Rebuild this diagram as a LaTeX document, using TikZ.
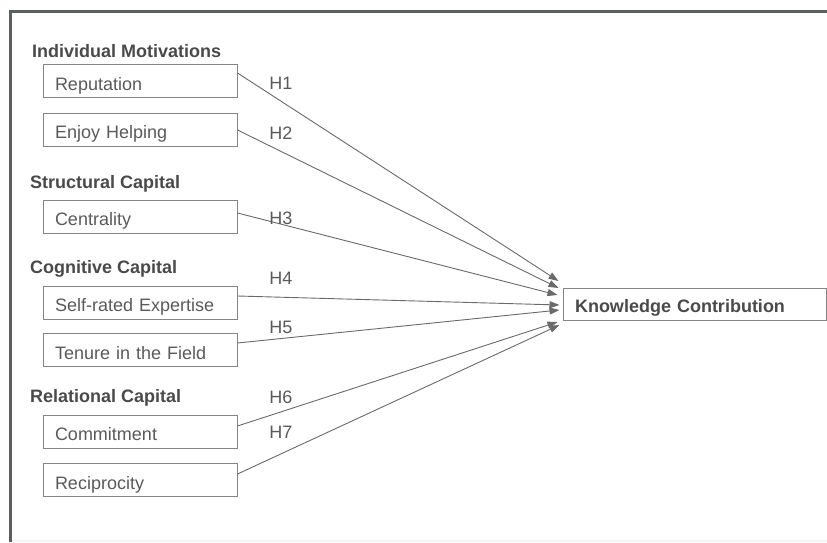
\documentclass[tikz,border=0pt]{standalone}
\usepackage{fontspec}
\setmainfont{Liberation Sans}
\usetikzlibrary{arrows.meta,calc}
\definecolor{txt}{HTML}{5A5A5A}
\definecolor{hdr}{HTML}{4A4A4A}
\definecolor{edge}{HTML}{858585}
\definecolor{wire}{HTML}{6A6A6A}
\definecolor{frame}{HTML}{5A5F5F}
\tikzset{
  varbox/.style={draw=edge, line width=1pt, minimum width=194pt, minimum height=33pt,
    text width=170pt, inner xsep=12pt, inner ysep=0pt, align=left, text=txt,
    text height=18pt, text depth=0pt,
    font=\fontsize{18}{20}\selectfont},
  kcbox/.style={draw=edge, line width=1pt, minimum width=263pt, minimum height=32pt,
    text width=239pt, inner xsep=12pt, inner ysep=0pt, align=left, text=hdr,
    text height=16pt, text depth=0pt,
    font=\fontsize{18}{20}\selectfont\bfseries},
  hdrtext/.style={anchor=west, inner sep=0pt, text=hdr, font=\fontsize{18}{20}\selectfont\bfseries},
  hlabel/.style={inner sep=0pt, text=txt, font=\fontsize{18}{20}\selectfont},
  link/.style={draw=wire, line width=0.9pt, -{Triangle[length=10pt,width=7pt]}}
}
\begin{document}
\begin{tikzpicture}[x=1pt,y=1pt]
\useasboundingbox (0,0) rectangle (827,542);
\fill[white] (0,0) rectangle (827,542);
% frame
\draw[frame, line width=3pt] (10,0) -- (10,530) -- (827,530);
\fill[black!4] (11.5,0) rectangle (827,2.5);

% headings
\node[hdrtext] (h1) at (32,491) {Individual Motivations};
\node[hdrtext] (h2) at (30,358) {Structural Capital};
\node[hdrtext] (h3) at (30,273) {Cognitive Capital};
\node[hdrtext] (h4) at (30,144) {Relational Capital};

% boxes
\node[varbox] (rep) at (140,460.5) {Reputation};
\node[varbox] (enj) at (140,412) {Enjoy Helping};
\node[varbox] (cen) at (140,325.5) {Centrality};
\node[varbox] (sel) at (140,239.5) {Self-rated Expertise};
\node[varbox] (ten) at (140,192) {Tenure in the Field};
\node[varbox] (com) at (140,110.5) {Commitment};
\node[varbox] (rec) at (140,62) {Reciprocity};

\node[kcbox] (kc) at (694.5,238) {Knowledge Contribution};

% connector ends
\coordinate (e1) at ($(kc.west)+(-4,23)$);
\coordinate (e2) at ($(kc.west)+(-4,16)$);
\coordinate (e3) at ($(kc.west)+(-5,9)$);
\coordinate (e4) at ($(kc.west)+(-3,-1)$);
\coordinate (e5) at ($(kc.west)+(-3,-6)$);
\coordinate (e6) at ($(kc.west)+(-5,-18)$);
\coordinate (e7) at ($(kc.west)+(-3,-21)$);

\draw[link] ($(rep.east)+(0,8.5)$) -- (e1);
\draw[link] (enj.east) -- (e2);
\draw[link] ($(cen.east)+(0,3.5)$) -- (e3);
\draw[link] ($(sel.east)+(0,6.5)$) -- (e4);
\draw[link] ($(ten.east)+(0,7)$) -- (e5);
\draw[link] ($(com.east)+(0,5.5)$) -- (e6);
\draw[link] ($(rec.east)+(0,6)$) -- (e7);

% hypothesis labels
\node[hlabel] (l1) at (281,459) {H1};
\node[hlabel] (l2) at (281,409) {H2};
\node[hlabel] (l3) at (281,324) {H3};
\node[hlabel] (l4) at (281,264) {H4};
\node[hlabel] (l5) at (281,215) {H5};
\node[hlabel] (l6) at (281,145) {H6};
\node[hlabel] (l7) at (281,110) {H7};
\end{tikzpicture}
\end{document}
